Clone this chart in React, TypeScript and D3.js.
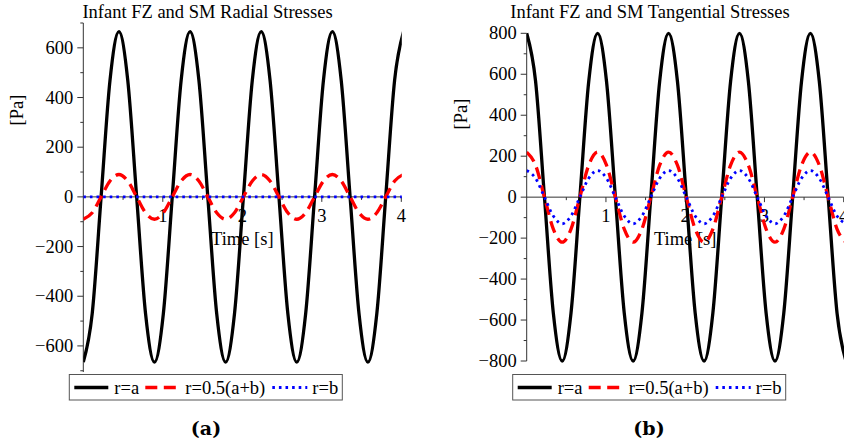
import React from 'react';
import * as d3 from 'd3';

const W = 844;
const H = 447;

// Sample times [s] (eighths of the ~0.895 s cardiac cycle)
const times = [
  0, 0.112, 0.224, 0.336, 0.448, 0.559, 0.671, 0.783, 0.895, 1.007, 1.119, 1.231,
  1.343, 1.454, 1.566, 1.678, 1.79, 1.902, 2.014, 2.126, 2.238, 2.349, 2.461, 2.573,
  2.685, 2.797, 2.909, 3.021, 3.133, 3.244, 3.356, 3.468, 3.58, 3.692, 3.804, 3.916, 4.028,
];

// Radial stresses [Pa]
const radialA = [
  -665, -470, 0, 470, 665, 470, 0, -470, -665, -470, 0, 470, 665, 470, 0, -470,
  -665, -470, 0, 470, 665, 470, 0, -470, -665, -470, 0, 470, 665, 470, 0, -470,
  -665, -470, 0, 470, 665,
];
const radialMid = [
  -90, -64, 0, 64, 90, 64, 0, -64, -90, -64, 0, 64, 90, 64, 0, -64,
  -90, -64, 0, 64, 90, 64, 0, -64, -90, -64, 0, 64, 90, 64, 0, -64,
  -90, -64, 0, 64, 90,
];
const radialB = [
  0, 0, 0, 0, 0, 0, 0, 0, 0, 0, 0, 0, 0, 0, 0, 0,
  0, 0, 0, 0, 0, 0, 0, 0, 0, 0, 0, 0, 0, 0, 0, 0,
  0, 0, 0, 0, 0,
];

// Tangential stresses [Pa]
const tangA = [
  800, 566, 0, -566, -800, -566, 0, 566, 800, 566, 0, -566, -800, -566, 0, 566,
  800, 566, 0, -566, -800, -566, 0, 566, 800, 566, 0, -566, -800, -566, 0, 566,
  800, 566, 0, -566, -800,
];
const tangMid = [
  220, 156, 0, -156, -220, -156, 0, 156, 220, 156, 0, -156, -220, -156, 0, 156,
  220, 156, 0, -156, -220, -156, 0, 156, 220, 156, 0, -156, -220, -156, 0, 156,
  220, 156, 0, -156, -220,
];
const tangB = [
  130, 92, 0, -92, -130, -92, 0, 92, 130, 92, 0, -92, -130, -92, 0, 92,
  130, 92, 0, -92, -130, -92, 0, 92, 130, 92, 0, -92, -130, -92, 0, 92,
  130, 92, 0, -92, -130,
];

const legendLabels = ['r=a', 'r=0.5(a+b)', 'r=b'];
const xTickLabels = [1, 2, 3, 4];
const radialYTicks = [-600, -400, -200, 0, 200, 400, 600];
const tangYTicks = [-800, -600, -400, -200, 0, 200, 400, 600, 800];

const FONT = '"Liberation Serif", "Times New Roman", serif';

const seriesStyles = [
  { color: '#000000', width: 3.3, dash: null as string | null, cap: 'butt' },
  { color: '#ff0000', width: 3.3, dash: '12,6.5', cap: 'butt' },
  { color: '#0000ff', width: 2.8, dash: '2.6,4', cap: 'butt' },
];

type PanelProps = {
  id: string;
  title: string;
  caption: string;
  series: number[][];
  yDomain: [number, number];
  yLabels: number[];
  xRange: [number, number];
  yRange: [number, number];
  titleX: number;
  yTitle: [number, number];
  legendX: number;
  captionX: number;
};

function fmt(v: number) {
  return v < 0 ? '\u2212' + Math.abs(v) : String(v);
}

function Panel(p: PanelProps) {
  const x = d3.scaleLinear().domain([0, 4]).range(p.xRange);
  const y = d3.scaleLinear().domain(p.yDomain).range(p.yRange);
  const y0 = y(0);
  const axisColor = '#333';

  const line = d3
    .line<number>()
    .x((_, i) => x(times[i]))
    .y((v) => y(v))
    .curve(d3.curveMonotoneX);

  const minorY = d3.range(Math.ceil(p.yDomain[0] / 100) * 100, p.yDomain[1] + 1, 100);
  const minorX = d3.range(0.5, 4.01, 0.5);

  const legendY = 387.5;
  const lx = p.legendX;
  const legendItems = [
    { x1: lx + 5, x2: lx + 39, tx: lx + 45 },
    { x1: lx + 76, x2: lx + 111, tx: lx + 116 },
    { x1: lx + 203, x2: lx + 238, tx: lx + 243 },
  ];

  return (
    <g>
      <defs>
        <clipPath id={`clip-${p.id}`}>
          <rect x={p.xRange[0]} y={0} width={p.xRange[1] - p.xRange[0] + 0.5} height={H} />
        </clipPath>
      </defs>

      <text x={p.titleX} y={18} fontFamily={FONT} fontSize={18.5} textAnchor="middle">
        {p.title}
      </text>

      {/* y axis */}
      <line x1={p.xRange[0]} x2={p.xRange[0]} y1={p.yRange[1]} y2={p.yRange[0]} stroke={axisColor} strokeWidth={1} />
      {minorY.map((v) => (
        <line
          key={`my${v}`}
          x1={p.xRange[0] - (v % 200 === 0 ? 6 : 3)}
          x2={p.xRange[0]}
          y1={y(v)}
          y2={y(v)}
          stroke={axisColor}
          strokeWidth={1}
        />
      ))}
      {p.yLabels.map((v) => (
        <text
          key={`yl${v}`}
          x={p.xRange[0] - 10}
          y={y(v) + 6}
          fontFamily={FONT}
          fontSize={18.5}
          textAnchor="end"
        >
          {fmt(v)}
        </text>
      ))}
      <text
        transform={`translate(${p.yTitle[0]},${p.yTitle[1]}) rotate(-90)`}
        fontFamily={FONT}
        fontSize={18.5}
        textAnchor="middle"
        dominantBaseline="middle"
      >
        [Pa]
      </text>

      {/* x axis along zero */}
      <line x1={p.xRange[0]} x2={p.xRange[1]} y1={y0} y2={y0} stroke={axisColor} strokeWidth={1} />
      {minorX.map((v) => (
        <line
          key={`mx${v}`}
          x1={x(v)}
          x2={x(v)}
          y1={y0}
          y2={y0 + (Number.isInteger(v) ? 5 : 3)}
          stroke={axisColor}
          strokeWidth={1}
        />
      ))}
      {xTickLabels.map((v) => (
        <text key={`xl${v}`} x={x(v)} y={y0 + 25} fontFamily={FONT} fontSize={18.5} textAnchor="middle">
          {v}
        </text>
      ))}
      <text x={x(2)} y={245} fontFamily={FONT} fontSize={18.5} textAnchor="middle">
        Time [s]
      </text>

      {/* curves */}
      <g clipPath={`url(#clip-${p.id})`}>
        {p.series.map((s, i) => (
          <path
            key={`s${i}`}
            d={line(s) || ''}
            fill="none"
            stroke={seriesStyles[i].color}
            strokeWidth={seriesStyles[i].width}
            strokeDasharray={seriesStyles[i].dash || undefined}
            strokeLinejoin="round"
          />
        ))}
      </g>

      {/* legend */}
      <rect x={lx} y={374.5} width={273} height={25.5} fill="#fff" stroke="#555" strokeWidth={1} />
      {legendItems.map((it, i) => (
        <g key={`lg${i}`}>
          <line
            x1={it.x1}
            x2={it.x2}
            y1={legendY}
            y2={legendY}
            stroke={seriesStyles[i].color}
            strokeWidth={seriesStyles[i].width}
            strokeDasharray={seriesStyles[i].dash || undefined}
          />
          <text x={it.tx} y={394} fontFamily={FONT} fontSize={18.5}>
            {legendLabels[i]}
          </text>
        </g>
      ))}

      <text
        x={p.captionX}
        y={435}
        fontFamily='"DejaVu Serif", serif'
        fontWeight="bold"
        fontSize={19}
        textAnchor="middle"
      >
        {p.caption}
      </text>
    </g>
  );
}

export default function App() {
  return (
    <svg
      width={W}
      height={H}
      viewBox={`0 0 ${W} ${H}`}
      style={{ position: 'absolute', left: 0, top: 0, background: '#fff' }}
    >
      <rect x={0} y={0} width={W} height={H} fill="#fff" />
      <Panel
        id="radial"
        title="Infant FZ and SM Radial Stresses"
        caption="(a)"
        series={[radialA, radialMid, radialB]}
        yDomain={[-705, 700]}
        yLabels={radialYTicks}
        xRange={[83.3, 401.3]}
        yRange={[372, 23]}
        titleX={207.5}
        yTitle={[19, 110]}
        legendX={69.3}
        captionX={206}
      />
      <Panel
        id="tang"
        title="Infant FZ and SM Tangential Stresses"
        caption="(b)"
        series={[tangA, tangMid, tangB]}
        yDomain={[-800, 800]}
        yLabels={tangYTicks}
        xRange={[526.7, 843.7]}
        yRange={[361, 33.3]}
        titleX={650}
        yTitle={[462.5, 114]}
        legendX={512.7}
        captionX={649}
      />
    </svg>
  );
}
